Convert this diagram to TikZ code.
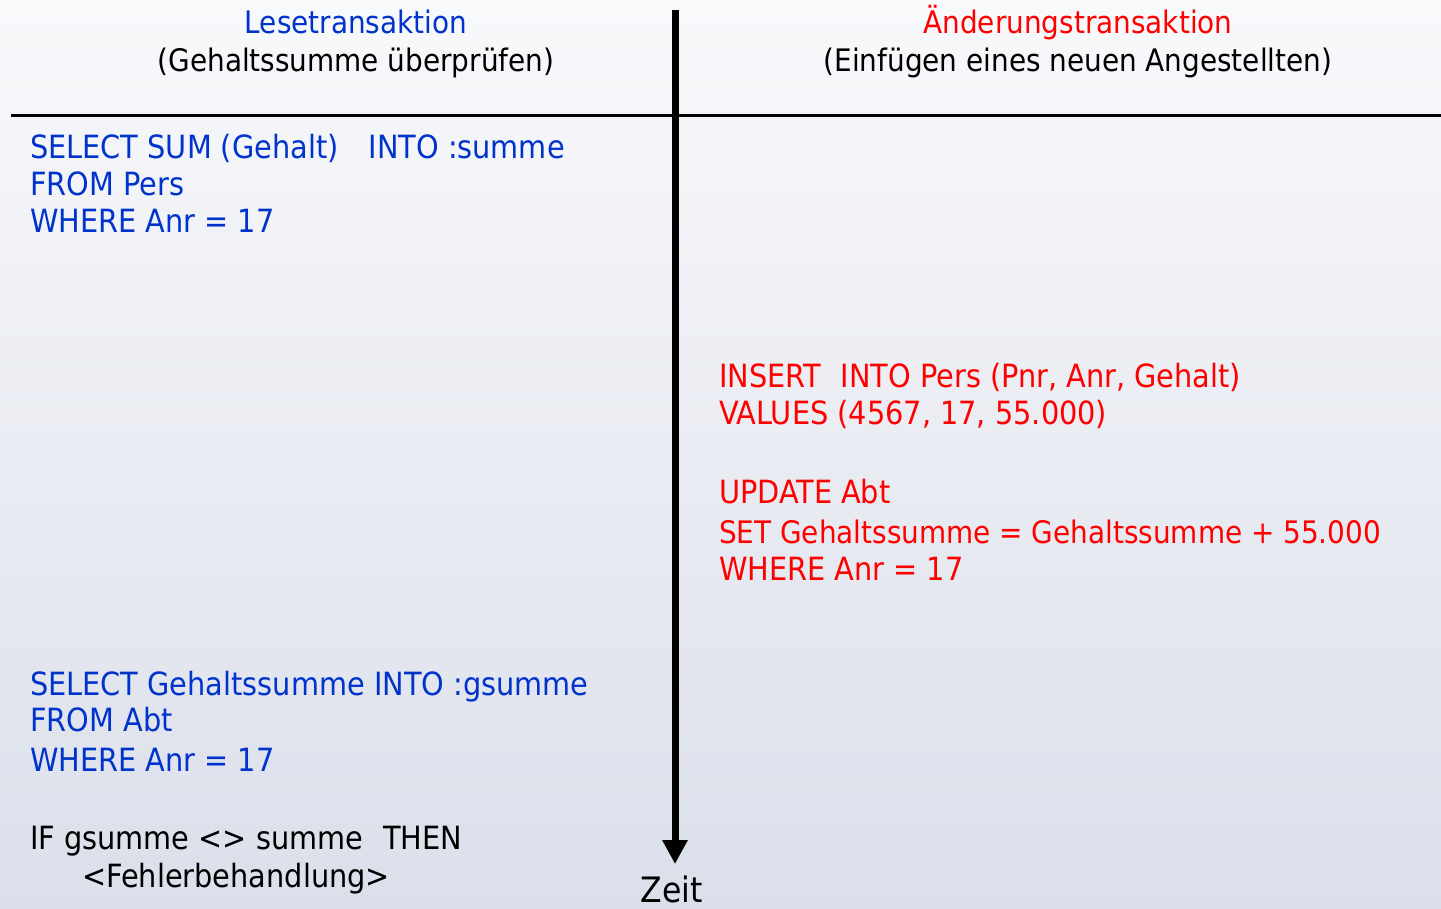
\documentclass[tikz,border=0pt]{standalone}
\usepackage{fontspec}
\setmainfont{DejaVu Sans Condensed}
\usetikzlibrary{arrows.meta}
\definecolor{sqlblue}{RGB}{0,51,204}
\definecolor{sqlred}{RGB}{255,0,0}
\definecolor{bgtop}{RGB}{248,249,251}
\definecolor{bgbot}{RGB}{219,223,234}
\tikzset{
  txt/.style={inner sep=0pt, anchor=base west, font=\fontsize{32}{38}\selectfont},
  ctxt/.style={inner sep=0pt, anchor=base, font=\fontsize{31}{37}\selectfont},
  readq/.style={txt, text=sqlblue},
  writeq/.style={txt, text=sqlred},
}
\begin{document}
\begin{tikzpicture}[x=1pt,y=-1pt]
  % background
  \shade[shading=axis, shading angle=55, top color=bgtop, bottom color=bgbot]
    (0,0) rectangle (1441,909);
  \useasboundingbox (0,0) rectangle (1441,909);

  % headings
  \node[ctxt, text=sqlblue] (h1) at (356,34) {Lesetransaktion};
  \node[ctxt] (h1b) at (356,72) {(Gehaltssumme überprüfen)};
  \node[ctxt, text=sqlred] (h2) at (1078,34) {Änderungstransaktion};
  \node[ctxt] (h2b) at (1078,72) {(Einfügen eines neuen Angestellten)};

  % separator and time axis
  \coordinate (sepL) at (11,116);
  \coordinate (sepR) at (1441,116);
  \draw[line width=3pt] (sepL) -- (sepR);
  \coordinate (tTop) at (675,10);
  \coordinate (tEnd) at (675,864);
  \draw[line width=7pt, -{Triangle[length=24pt,width=24pt]}] (tTop) -- (tEnd);
  \node[ctxt, font=\fontsize{35}{40}\selectfont] (zeit) at (672,902) {Zeit};

  % read transaction, first query
  \node[readq] (r1) at (30,159) {SELECT SUM (Gehalt)\hspace{30pt}INTO :summe};
  \node[readq] (r2) at (30,196) {FROM Pers};
  \node[readq] (r3) at (30,233) {WHERE Anr = 17};

  % update transaction
  \node[writeq] (w1) at (719,388) {INSERT\hspace{20pt}INTO Pers (Pnr, Anr, Gehalt)};
  \node[writeq] (w2) at (719,424) {VALUES (4567, 17, 55.000)};
  \node[writeq] (w3) at (719,503) {UPDATE Abt};
  \node[writeq, font=\fontsize{31}{37}\selectfont] (w4) at (719,543) {SET Gehaltssumme = Gehaltssumme + 55.000};
  \node[writeq] (w5) at (719,580) {WHERE Anr = 17};

  % read transaction, second query
  \node[readq] (r4) at (30,695) {SELECT Gehaltssumme INTO :gsumme};
  \node[readq] (r5) at (30,731) {FROM Abt};
  \node[readq] (r6) at (30,771) {WHERE Anr = 17};

  % consistency check
  \node[txt] (c1) at (30,849) {IF gsumme <> summe\hspace{20pt}THEN};
  \node[txt] (c2) at (82,887) {<Fehlerbehandlung>};
\end{tikzpicture}
\end{document}
